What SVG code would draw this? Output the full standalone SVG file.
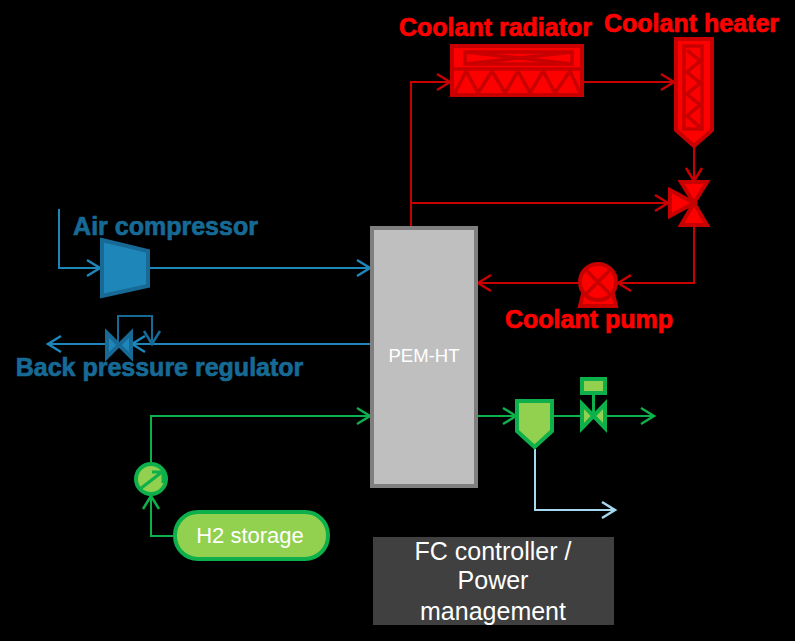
<svg xmlns="http://www.w3.org/2000/svg" width="795" height="641" viewBox="0 0 795 641">
<style>
text{font-family:"Liberation Sans",Arial,sans-serif}
.lbl{font-weight:bold;font-size:25px;stroke-width:.7px;text-anchor:middle}
.r{fill:#f00;stroke:#f00}
.b{fill:#176a95;stroke:#176a95}
.c{fill:none;stroke-width:2}
.cr{stroke:#c80000}
.cb{stroke:#1f86ba}
.cd{stroke:#176a95}
.cg{stroke:#0db04b}
.sr{fill:#f00;stroke:#c80000;stroke-width:4}
.dr{fill:none;stroke:#c80000;stroke-width:3.500}
.sb{fill:#1f86ba;stroke:#176a95;stroke-width:4}
.sg{fill:#92d050;stroke:#0db04b;stroke-width:4}
.w{fill:#fff;font-size:25px;text-anchor:middle}
</style>
<defs>
<marker id="ar" markerUnits="userSpaceOnUse" markerWidth="18" markerHeight="20" refX="14" refY="10" orient="auto"><path d="M1 2L14 10L1 18" fill="none" stroke="#c80000" stroke-width="2.500"/></marker>
<marker id="ab" markerUnits="userSpaceOnUse" markerWidth="18" markerHeight="20" refX="14" refY="10" orient="auto"><path d="M1 2L14 10L1 18" fill="none" stroke="#1f86ba" stroke-width="2.500"/></marker>
<marker id="ad" markerUnits="userSpaceOnUse" markerWidth="18" markerHeight="20" refX="14" refY="10" orient="auto"><path d="M1 2L14 10L1 18" fill="none" stroke="#176a95" stroke-width="2.500"/></marker>
<marker id="ag" markerUnits="userSpaceOnUse" markerWidth="18" markerHeight="20" refX="14" refY="10" orient="auto"><path d="M1 2L14 10L1 18" fill="none" stroke="#0db04b" stroke-width="2.500"/></marker>
<marker id="al" markerUnits="userSpaceOnUse" markerWidth="18" markerHeight="20" refX="14" refY="10" orient="auto"><path d="M1 2L14 10L1 18" fill="none" stroke="#a6d8f0" stroke-width="2.500"/></marker>
</defs>
<rect width="795" height="641" fill="#000"/>
<g id="connectors">
<path class="c cr" d="M411 226V82H450" marker-end="url(#ar)"/>
<path class="c cr" d="M583 82H674" marker-end="url(#ar)"/>
<path class="c cr" d="M694 147V181" marker-end="url(#ar)"/>
<path class="c cr" d="M411 203H668" marker-end="url(#ar)"/>
<path class="c cr" d="M694 226V283H618" marker-end="url(#ar)"/>
<path class="c cr" d="M578 283H478" marker-end="url(#ar)"/>
<path class="c cb" d="M59 209V268H100" marker-end="url(#ab)"/>
<path class="c cb" d="M150 268H370" marker-end="url(#ab)"/>
<path class="c cb" d="M370 344H132" marker-end="url(#ab)"/>
<path class="c cb" d="M105 344H48" marker-end="url(#ab)"/>
<path class="c cd" d="M118 344V316H152V344" marker-end="url(#ad)"/>
<path class="c cg" d="M151 464V416H370" marker-end="url(#ag)"/>
<path class="c cg" d="M174 536H151V496" marker-end="url(#ag)"/>
<path class="c cg" d="M478 416H516" marker-end="url(#ag)"/>
<path class="c cg" d="M553 416H581"/>
<path class="c cg" d="M607 416H654" marker-end="url(#ag)"/>
<path class="c" stroke="#a6d8f0" d="M535 449V510H615" marker-end="url(#al)"/>
</g>
<g id="pem-ht"><rect x="372" y="228" width="104" height="258" fill="#bfbfbf" stroke="#7f7f7f" stroke-width="4"/><text x="424" y="362" fill="#fff" font-size="18.500" text-anchor="middle">PEM-HT</text></g>
<g id="coolant-radiator">
<rect x="452" y="46" width="130" height="49" class="sr"/>
<path d="M452 69H582" class="dr"/>
<path d="M465 52H572V64H465Z M465 52L572 64M465 64L572 52" class="dr"/>
<path d="M455 93L466 71L478 93L492 71L505 93L518 71L530 93L543 71L555 93L570 71L580 93" class="dr"/>
<text x="495.500" y="36" class="lbl r">Coolant radiator</text>
</g>
<g id="coolant-heater">
<path d="M676 39H712V130L694 146L676 130Z" class="sr"/>
<path d="M684 46H702V129H684Z" class="dr"/>
<path d="M687 50L700 61L687 72L700 83L687 94L700 105L687 116L700 127" class="dr"/>
<text x="691.500" y="32" class="lbl r">Coolant heater</text>
</g>
<g id="coolant-valve">
<path d="M681 182H707L694 203L681 225H707L694 203Z" class="sr"/>
<path d="M670 190L694 203L670 216Z" class="sr"/>
</g>
<g id="coolant-pump">
<path d="M580 306L584 290H612L616 306Z" class="sr"/>
<circle cx="598" cy="282" r="18" class="sr"/>
<path d="M586 270L610 294M610 270L586 294" stroke="#c80000" stroke-width="3.500"/>
<text x="589" y="328" class="lbl r">Coolant pump</text>
</g>
<g id="air-compressor">
<path d="M102 240L148 251V286L102 296Z" class="sb"/>
<text x="165.500" y="235" class="lbl b">Air compressor</text>
</g>
<g id="back-pressure-regulator">
<path d="M107 333L131 357V333L107 357Z" class="sb" stroke-width="3"/>
<text x="159.500" y="376" class="lbl b">Back pressure regulator</text>
</g>
<g id="h2-regulator">
<circle cx="151" cy="479" r="15" class="sg"/>
<path d="M140 489L162 472M152 472H163V483" fill="none" stroke="#0db04b" stroke-width="3"/>
</g>
<g id="h2-storage"><rect x="175" y="512" width="153" height="47" rx="23" class="sg"/><text x="250" y="543" class="w" style="font-size:22px">H2 storage</text></g>
<g id="separator"><path d="M517 401H552V431L534.500 447L517 431Z" class="sg"/></g>
<g id="green-valve">
<rect x="582" y="379" width="23" height="14" class="sg"/>
<path d="M593.500 393V416" stroke="#0db04b" stroke-width="3"/>
<path d="M582 404L605 428V404L582 428Z" class="sg"/>
</g>
<g id="fc-controller">
<rect x="373" y="537" width="241" height="88" fill="#404040"/>
<text x="493" y="560" class="w">FC controller /</text>
<text x="493" y="589" class="w">Power</text>
<text x="493" y="620" class="w">management</text>
</g>
</svg>
